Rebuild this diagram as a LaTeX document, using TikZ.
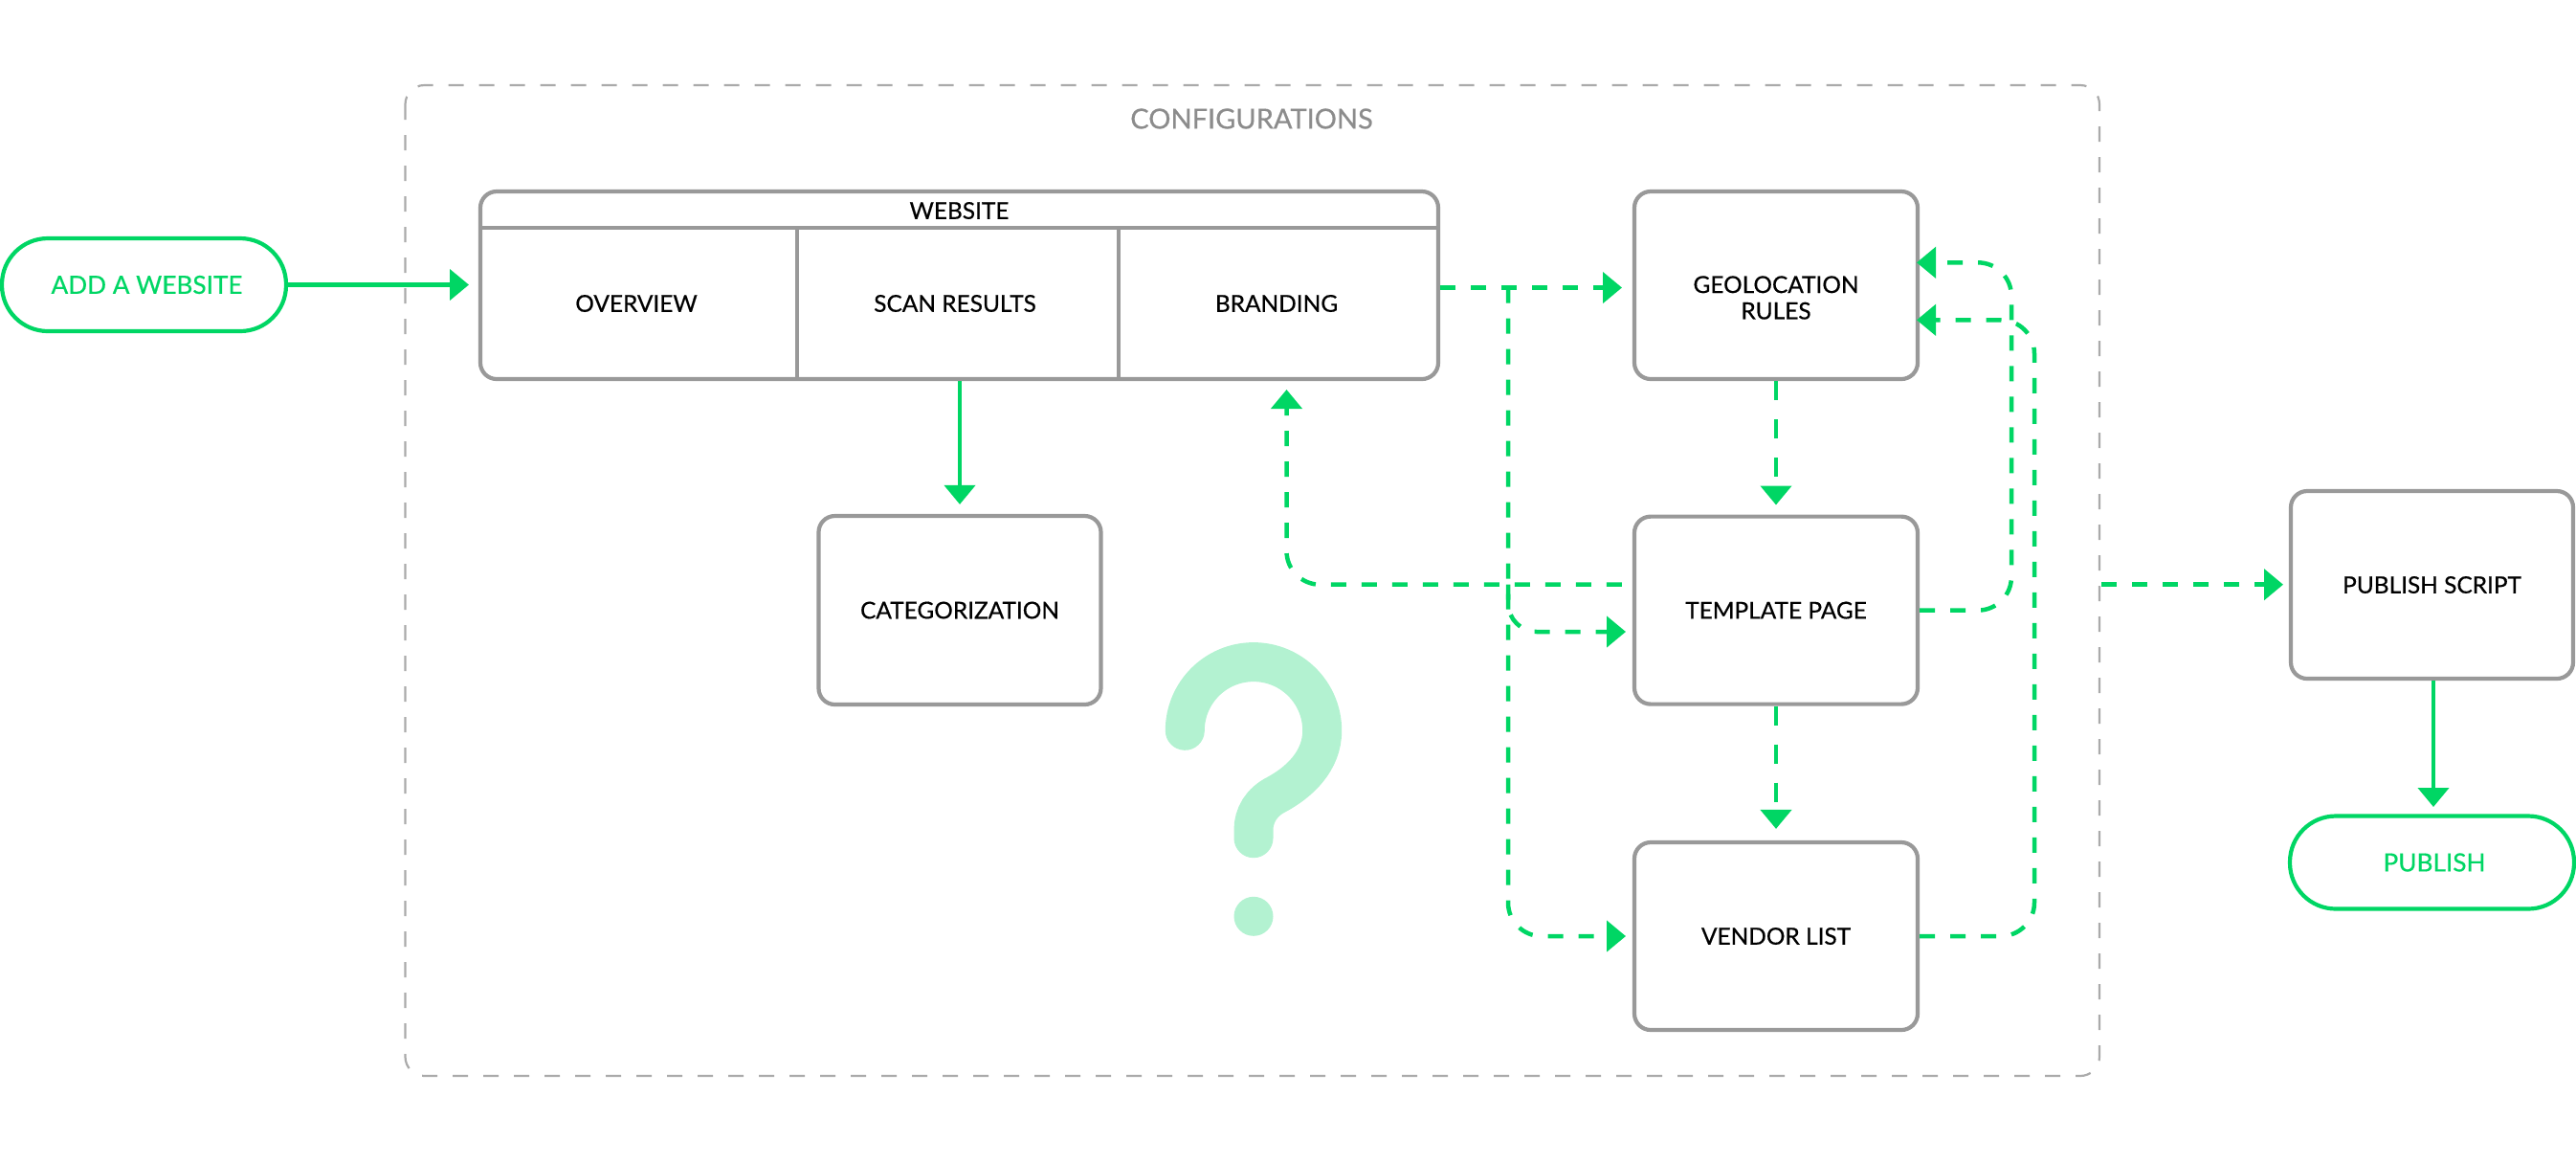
\documentclass[tikz,border=0pt]{standalone}
\usepackage{xcolor}
\usepackage{fontspec}
\setmainfont{Lato}[FakeBold=0.5]
\usepackage{tikz}
\usetikzlibrary{arrows.meta}

\definecolor{flowgreen}{HTML}{00D664}
\definecolor{paleflow}{HTML}{B3F2D1}
\definecolor{boxgray}{HTML}{999999}
\definecolor{framegray}{HTML}{AAAAAA}
\definecolor{titlegray}{HTML}{8C8C8C}

\tikzset{
  boxnode/.style={draw=boxgray,line width=0.042cm,rounded corners=0.17cm,fill=white,align=center,inner sep=0pt},
  pillnode/.style={draw=flowgreen,line width=0.042cm,rounded corners=0.48cm,text=flowgreen,inner sep=0pt,font=\fontsize{7.45}{9}\selectfont},
  flowline/.style={flowgreen,line width=0.042cm,-{Triangle[length=0.2cm,width=0.32cm]}},
  dashline/.style={flowline,line width=0.045cm,dash pattern=on 0.16cm off 0.16cm},
  longdash/.style={flowline,line width=0.045cm,dash pattern=on 0.2cm off 0.2cm},
}

\begin{document}
\begin{tikzpicture}[font=\fontsize{6.95}{7.8}\selectfont]
	\useasboundingbox (0,0) rectangle (26.92,-12.14);

	% frame
	\draw [framegray,line width=0.022cm,dash pattern=on 0.16cm off 0.16cm,rounded corners=0.2cm]
	    (4.235,-0.89) rectangle (21.94,-11.24);
	\node [text=titlegray,font=\fontsize{8.25}{10}\selectfont] (conftitle) at (13.08,-1.24) {CONFIGURATIONS};

	% question mark
	\draw [paleflow,line width=0.41cm,line cap=round]
	    (12.383,-7.633) arc (180:0:0.717) .. controls (13.817,-7.95) and (13.58,-8.17) .. (13.34,-8.3)
	    .. controls (13.18,-8.38) and (13.1,-8.52) .. (13.1,-8.67) -- (13.1,-8.757);
	\fill [paleflow] (13.1,-9.573) circle (0.205);

	\begin{scope}[every node/.style={boxnode}]
	    \node [minimum width=10.01cm,minimum height=1.96cm] (website) at (10.025,-2.98) {};
	    \node [minimum width=2.95cm,minimum height=1.97cm] (category) at (10.03,-6.375) {CATEGORIZATION};
	    \node [minimum width=2.96cm,minimum height=1.96cm] (geo) at (18.56,-2.98) {};
	    \node [minimum width=2.96cm,minimum height=1.96cm] (template) at (18.56,-6.376) {TEMPLATE PAGE};
	    \node [minimum width=2.96cm,minimum height=1.96cm] (vendor) at (18.56,-9.78) {VENDOR LIST};
	    \node [minimum width=2.95cm,minimum height=1.96cm] (script) at (25.415,-6.11) {PUBLISH SCRIPT};
	\end{scope}

	\begin{scope}[every node/.style={pillnode,minimum width=2.97cm,minimum height=0.97cm}]
	    \node (addsite) at (1.505,-2.975) {\hspace*{0.06cm}ADD A WEBSITE};
	    \node (publish) at (25.415,-9.01) {\hspace*{0.05cm}\raisebox{-0.015cm}{PUBLISH}};
	\end{scope}

	% website columns
	\coordinate (headleft) at (5.02,-2.38);
	\coordinate (headright) at (15.03,-2.38);
	\coordinate (colone) at (8.327,-2.38);
	\coordinate (coltwo) at (11.69,-2.38);
	\draw [boxgray,line width=0.042cm] (headleft) -- (headright);
	\draw [boxgray,line width=0.042cm] (colone) -- (colone |- website.south);
	\draw [boxgray,line width=0.042cm] (coltwo) -- (coltwo |- website.south);
	\node (sitetitle) at (10.025,-2.2) {WEBSITE};
	\node (overview) at (6.65,-3.17) {OVERVIEW};
	\node (scan) at (9.98,-3.17) {SCAN RESULTS};
	\node (branding) at (13.34,-3.17) {BRANDING};
	\node [align=center] (geotext) at (18.56,-3.11) {GEOLOCATION\\RULES};

	% free ends
	\coordinate (geoin) at (16.95,-3.005);
	\coordinate (geotop) at (20.03,-2.743);
	\coordinate (geolow) at (20.03,-3.343);
	\coordinate (trunk) at (15.76,-3.005);
	\coordinate (brandin) at (13.445,-4.07);
	\coordinate (crossline) at (16.97,-6.107);
	\coordinate (templin) at (16.99,-6.6);
	\coordinate (vendin) at (16.99,-9.78);
	\coordinate (scriptin) at (23.86,-6.107);
	\coordinate (frameout) at (21.96,-6.107);

	% solid arrows
	\draw [flowline] (addsite.east) -- (4.9,-2.975);
	\draw [flowline] (website.south -| category.north) -- ([yshift=0.1cm]category.north);
	\draw [flowline] (script.south -| 25.43,0) -- (25.43,-8.43);

	% dashed arrows
	\draw [dashline] (website.east |- geoin) -- (geoin);
	\draw [longdash] (geo.south) -- ([yshift=0.1cm]template.north);
	\draw [longdash] (template.south) -- ([yshift=0.12cm]vendor.north);
	\draw [dashline] (frameout) -- (scriptin);
	\draw [dashline,rounded corners=0.35cm,dash phase=0.21cm]
	    (template.west |- crossline) -| (brandin);
	\draw [dashline,rounded corners=0.35cm] (trunk) |- (vendin);
	\draw [dashline,rounded corners=0.3cm] (trunk |- crossline) |- (templin);
	\draw [dashline,rounded corners=0.35cm] (template.east) -| (21.02,-2.743) -- (geotop);
	\draw [dashline,rounded corners=0.35cm] (vendor.east) -| (21.26,-3.343) -- (geolow);
\end{tikzpicture}
\end{document}
